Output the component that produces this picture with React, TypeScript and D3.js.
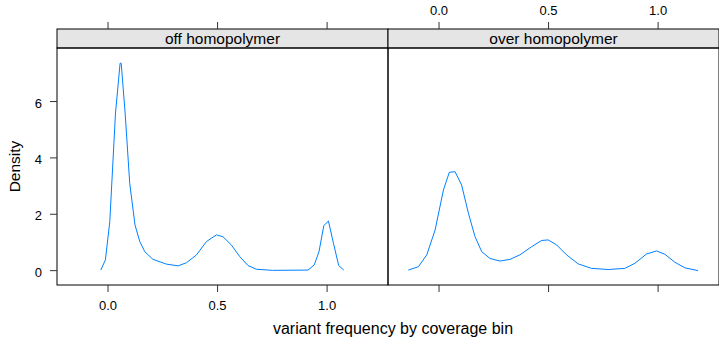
import React from 'react';
import * as d3 from 'd3';

// density curve
const offX = [-0.033, -0.012, 0.008, 0.034, 0.055, 0.06, 0.078, 0.099, 0.123, 0.145, 0.168, 0.205, 0.267, 0.32, 0.358, 0.404, 0.449, 0.495, 0.525, 0.563, 0.601, 0.639, 0.677, 0.75, 0.913, 0.941, 0.963, 0.985, 1.006, 1.029, 1.053, 1.076];
const offY = [0.02, 0.38, 1.74, 5.59, 7.36, 7.36, 5.59, 3.1, 1.62, 1.03, 0.67, 0.4, 0.23, 0.17, 0.28, 0.56, 1.03, 1.27, 1.2, 0.91, 0.5, 0.18, 0.05, 0.01, 0.02, 0.2, 0.67, 1.6, 1.76, 0.97, 0.18, 0.02];

const overX = [-0.14, -0.094, -0.056, -0.018, 0.02, 0.047, 0.073, 0.103, 0.134, 0.164, 0.195, 0.233, 0.278, 0.324, 0.369, 0.423, 0.468, 0.498, 0.537, 0.582, 0.635, 0.696, 0.772, 0.848, 0.894, 0.947, 0.993, 1.031, 1.076, 1.122, 1.182];
const overY = [0.02, 0.14, 0.56, 1.44, 2.86, 3.49, 3.51, 3.04, 2.04, 1.21, 0.67, 0.43, 0.34, 0.4, 0.56, 0.85, 1.07, 1.09, 0.91, 0.56, 0.24, 0.08, 0.04, 0.08, 0.26, 0.59, 0.7, 0.58, 0.3, 0.1, 0.0];

const panels = ['off homopolymer', 'over homopolymer'];
const xTicks = [0, 0.5, 1];
const yTicks = [0, 2, 4, 6];

const W = 719;
const H = 339;
const top = 48;
const stripTop = 29;
const bottom = 285;
const panelLeft = [57, 388];
const panelW = 331;
const font = 'Liberation Sans, Arial, sans-serif';

const y = d3.scaleLinear().domain([-0.51, 7.9]).range([bottom, top]);

const App = () => {
  const series = [
    offX.map((d, i) => [d, offY[i]]),
    overX.map((d, i) => [d, overY[i]]),
  ];
  const fmt = d3.format('.1f');

  return (
    <svg width={W} height={H} style={{ position: 'absolute', left: 0, top: 0, display: 'block' }}>
      <rect width={W} height={H} fill="#fff" />
      {panels.map((name, p) => {
        const x0 = panelLeft[p];
        const x = d3.scaleLinear().domain([-0.233, 1.278]).range([x0, x0 + panelW]);
        const line = d3.line<number[]>().x((d) => x(d[0])).y((d) => y(d[1]));
        return (
          <g key={name}>
            <rect x={x0} y={stripTop} width={panelW} height={top - stripTop} fill="#e5e5e5" stroke="#000" strokeWidth={1} />
            <text x={x0 + panelW / 2} y={stripTop + 15.3} textAnchor="middle" fontFamily={font} fontSize={15.5} fill="#000">{name}</text>
            <path d={line(series[p]) || ''} fill="none" stroke="#0080ff" strokeWidth={1} />
            <rect x={x0} y={top} width={panelW} height={bottom - top} fill="none" stroke="#000" strokeWidth={1} />
            {xTicks.map((t) => (
              <g key={t}>
                <line x1={x(t)} x2={x(t)} y1={bottom} y2={bottom + 7} stroke="#333" />
                <line x1={x(t)} x2={x(t)} y1={stripTop} y2={stripTop - 7} stroke="#333" />
                {p === 0 && (
                  <text x={x(t)} y={bottom + 25} textAnchor="middle" fontFamily={font} fontSize={13} fill="#000">{fmt(t)}</text>
                )}
                {p === 1 && (
                  <text x={x(t)} y={15} textAnchor="middle" fontFamily={font} fontSize={13} fill="#000">{fmt(t)}</text>
                )}
              </g>
            ))}
          </g>
        );
      })}
      {yTicks.map((t) => (
        <g key={t}>
          <line x1={panelLeft[0]} x2={panelLeft[0] - 7} y1={y(t)} y2={y(t)} stroke="#333" />
          <line x1={panelLeft[1] + panelW} x2={panelLeft[1] + panelW + 7} y1={y(t)} y2={y(t)} stroke="#333" />
          <text x={panelLeft[0] - 15} y={y(t) + 6.2} textAnchor="end" fontFamily={font} fontSize={13} fill="#000">{t}</text>
        </g>
      ))}
      <text transform={`translate(20, ${(top + bottom) / 2}) rotate(-90)`} textAnchor="middle" fontFamily={font} fontSize={15.5} fill="#000">Density</text>
      <text x={393} y={334} textAnchor="middle" fontFamily={font} fontSize={16} fill="#000">variant frequency by coverage bin</text>
    </svg>
  );
};

export default App;
